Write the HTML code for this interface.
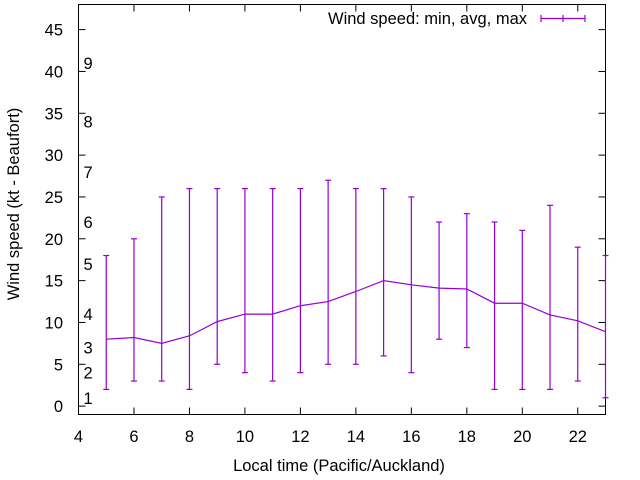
<!DOCTYPE html>
<html><head><meta charset="utf-8"><style>
body{margin:0;background:#fff}
svg{display:block;font-family:"Liberation Sans",sans-serif}
</style></head><body>
<svg id="c" width="640" height="480"></svg>
<script>
const hours=[5,6,7,8,9,10,11,12,13,14,15,16,17,18,19,20,21,22,23];
const avgSpeed=[8,8.2,7.5,8.4,10.1,11,11,12,12.5,13.7,15,14.5,14.1,14,12.3,12.3,10.9,10.2,8.9];
const minSpeed=[2,3,3,2,5,4,3,4,5,5,6,4,8,7,2,2,2,3,1];
const maxSpeed=[18,20,25,26,26,26,26,26,27,26,26,25,22,23,22,21,24,19,18];
const xTicks=[4,6,8,10,12,14,16,18,20,22];
const yTicks=[0,5,10,15,20,25,30,35,40,45];
const beaufortLevels=[1,2,3,4,5,6,7,8,9];
const beaufortKt=[1,4,7,11,17,22,28,34,41];
const L=78.5,R=605.5,T=4.5,B=414.5,x0=4,x1=23,y0=-1,y1=48;
const X=v=>L+(v-x0)/(x1-x0)*(R-L);
const Y=v=>B-(v-y0)/(y1-y0)*(B-T);
const svg=document.getElementById('c');const NS='http://www.w3.org/2000/svg';
function mk(t,a,p){const e=document.createElementNS(NS,t);for(const k in a)e.setAttribute(k,a[k]);(p||svg).appendChild(e);return e;}
const C='#9400d3';
const FS=16.5;
let fr=mk('rect',{x:L,y:T,width:R-L,height:B-T,fill:'none',stroke:'#000','stroke-width':1});


xTicks.forEach(v=>{
 const g=mk('g',{});
 
 
 mk('line',{x1:X(v),x2:X(v),y1:B,y2:B-7,stroke:'#000'},g);
 mk('line',{x1:X(v),x2:X(v),y1:T,y2:T+7,stroke:'#000'},g);
 const t=mk('text',{x:X(v),y:442,'text-anchor':'middle','font-size':FS,fill:'#000'},g);t.textContent=v;
});
yTicks.forEach(v=>{
 const g=mk('g',{});
 
 
 mk('line',{x1:L,x2:L+7,y1:Y(v),y2:Y(v),stroke:'#000'},g);
 mk('line',{x1:R,x2:R-7,y1:Y(v),y2:Y(v),stroke:'#000'},g);
 const t=mk('text',{x:63,y:Y(v)+6,'text-anchor':'end','font-size':FS,fill:'#000'},g);t.textContent=v;
});
beaufortLevels.forEach((b,i)=>{
 const t=mk('text',{x:83.5,y:Y(beaufortKt[i])+6,'font-size':FS,fill:'#000'});
 
 
 t.textContent=b;
});
hours.forEach((h,i)=>{
 const g=mk('g',{stroke:C,'stroke-width':1.2});
 
 
 const x=X(h);
 mk('line',{x1:x,x2:x,y1:Y(minSpeed[i]),y2:Y(maxSpeed[i])},g);
 mk('line',{x1:x-3,x2:x+3,y1:Y(minSpeed[i]),y2:Y(minSpeed[i])},g);
 mk('line',{x1:x-3,x2:x+3,y1:Y(maxSpeed[i]),y2:Y(maxSpeed[i])},g);
});
const pl=mk('polyline',{points:hours.map((h,i)=>X(h)+','+Y(avgSpeed[i])).join(' '),fill:'none',stroke:C,'stroke-width':1.2});


const lg=mk('g',{});


const lt=mk('text',{x:527,y:24,'text-anchor':'end','font-size':FS,fill:'#000'},lg);lt.textContent='Wind speed: min, avg, max';
mk('line',{x1:541,x2:585,y1:18.5,y2:18.5,stroke:C,'stroke-width':1.2},lg);
[541,563,585].forEach(x=>mk('line',{x1:x,x2:x,y1:15,y2:22,stroke:C,'stroke-width':1.2},lg));
const xt=mk('text',{x:339,y:471,'text-anchor':'middle','font-size':FS,fill:'#000'});


xt.textContent='Local time (Pacific/Auckland)';
const yt=mk('text',{x:0,y:0,'text-anchor':'middle','font-size':FS,fill:'#000',transform:'translate(19,204) rotate(-90)'});


yt.textContent='Wind speed (kt - Beaufort)';
</script>
</body></html>
